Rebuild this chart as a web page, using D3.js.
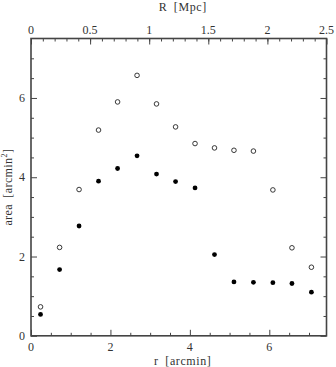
<!DOCTYPE html>
<html><head><meta charset="utf-8">
<script src="https://cdn.jsdelivr.net/npm/d3@7"></script>
<style>body{margin:0;background:#fff}svg{display:block}text{font-family:"Liberation Serif","DejaVu Serif",serif;fill:#333}</style>
</head><body>
<script>
const rArcmin = [0.24,0.72,1.21,1.70,2.18,2.67,3.16,3.64,4.13,4.62,5.11,5.60,6.09,6.57,7.06];
const areaOpen = [0.73,2.23,3.69,5.19,5.90,6.57,5.85,5.27,4.85,4.74,4.68,4.66,3.68,2.22,1.73];
const areaFilled = [0.54,1.67,2.77,3.90,4.22,4.54,4.08,3.89,3.73,2.05,1.36,1.35,1.34,1.32,1.10];
const xTicks = [0,2,4,6];
const yTicks = [0,2,4,6];
const topTicks = [0,0.5,1,1.5,2,2.5];
const xMax = 7.44, yMax = 7.5, mpcMax = 2.5;

const W=336,H=367;
const L=31,R=326.5,T=38.5,B=335.8;
const svg=d3.select("body").append("svg").attr("width",W).attr("height",H);
const x=d3.scaleLinear().domain([0,xMax]).range([L,R]);
const xt=d3.scaleLinear().domain([0,mpcMax]).range([L,R]);
const y=d3.scaleLinear().domain([0,yMax]).range([B,T]);
const col="#444";

function ticks(g){g.selectAll("line").attr("stroke",col).attr("stroke-width",1);g.select(".domain").remove();}
svg.append("g").attr("transform",`translate(0,${B})`).call(d3.axisTop(x).tickValues(d3.range(0.5,7.45,0.5).filter(v=>v%2!==0)).tickSize(3).tickFormat("")).call(ticks);
svg.append("g").attr("transform",`translate(0,${B})`).call(d3.axisTop(x).tickValues(xTicks).tickSize(6).tickFormat("")).call(ticks);
svg.append("g").attr("transform",`translate(0,${T})`).call(d3.axisBottom(xt).tickValues(d3.range(0.1,2.5,0.1)).tickSize(3).tickFormat("")).call(ticks);
svg.append("g").attr("transform",`translate(0,${T})`).call(d3.axisBottom(xt).tickValues(topTicks).tickSize(6).tickFormat("")).call(ticks);
svg.append("g").attr("transform",`translate(${L},0)`).call(d3.axisRight(y).tickValues(d3.range(0.5,7.5,0.5).filter(v=>v%2!==0)).tickSize(3).tickFormat("")).call(ticks);
svg.append("g").attr("transform",`translate(${L},0)`).call(d3.axisRight(y).tickValues(yTicks).tickSize(6).tickFormat("")).call(ticks);
svg.append("g").attr("transform",`translate(${R},0)`).call(d3.axisLeft(y).tickValues(d3.range(0.5,7.5,0.5).filter(v=>v%2!==0)).tickSize(3).tickFormat("")).call(ticks);
svg.append("g").attr("transform",`translate(${R},0)`).call(d3.axisLeft(y).tickValues(yTicks).tickSize(6).tickFormat("")).call(ticks);

svg.append("rect").attr("x",L).attr("y",T).attr("width",R-L).attr("height",B-T).attr("fill","none").attr("stroke",col).attr("stroke-width",1.6);

svg.selectAll(".xl").data(xTicks).join("text").attr("x",d=>x(d)).attr("y",351).attr("text-anchor","middle").attr("font-size",12).text(d=>d);
svg.selectAll(".tl").data(topTicks).join("text").attr("x",d=>xt(d)).attr("y",34).attr("text-anchor","middle").attr("font-size",12).text(d=>d);
svg.selectAll(".yl").data(yTicks).join("text").attr("x",22).attr("y",d=>y(d)+4).attr("text-anchor","middle").attr("font-size",12).text(d=>d);

svg.append("text").attr("x",(L+R)/2+4).attr("y",365).attr("text-anchor","middle").attr("font-size",12).attr("letter-spacing",0.6).attr("word-spacing",3).text("r [arcmin]");
svg.append("text").attr("x",(L+R)/2+4).attr("y",11).attr("text-anchor","middle").attr("font-size",12).attr("letter-spacing",0.6).attr("word-spacing",3).text("R [Mpc]");
const yl=svg.append("text").attr("transform",`translate(12,${(T+B)/2}) rotate(-90)`).attr("text-anchor","middle").attr("font-size",12).attr("letter-spacing",0.4).attr("word-spacing",3);
yl.append("tspan").text("area [arcmin");
yl.append("tspan").attr("font-size",8).attr("dy",-5).text("2");
yl.append("tspan").attr("dy",5).text("]");

svg.selectAll(".op").data(rArcmin).join("circle").attr("cx",d=>x(d)).attr("cy",(d,i)=>y(areaOpen[i])).attr("r",2.3).attr("fill","none").attr("stroke","#222").attr("stroke-width",0.9);
svg.selectAll(".fp").data(rArcmin).join("circle").attr("cx",d=>x(d)).attr("cy",(d,i)=>y(areaFilled[i])).attr("r",2.4).attr("fill","#000");
</script>
</body></html>
